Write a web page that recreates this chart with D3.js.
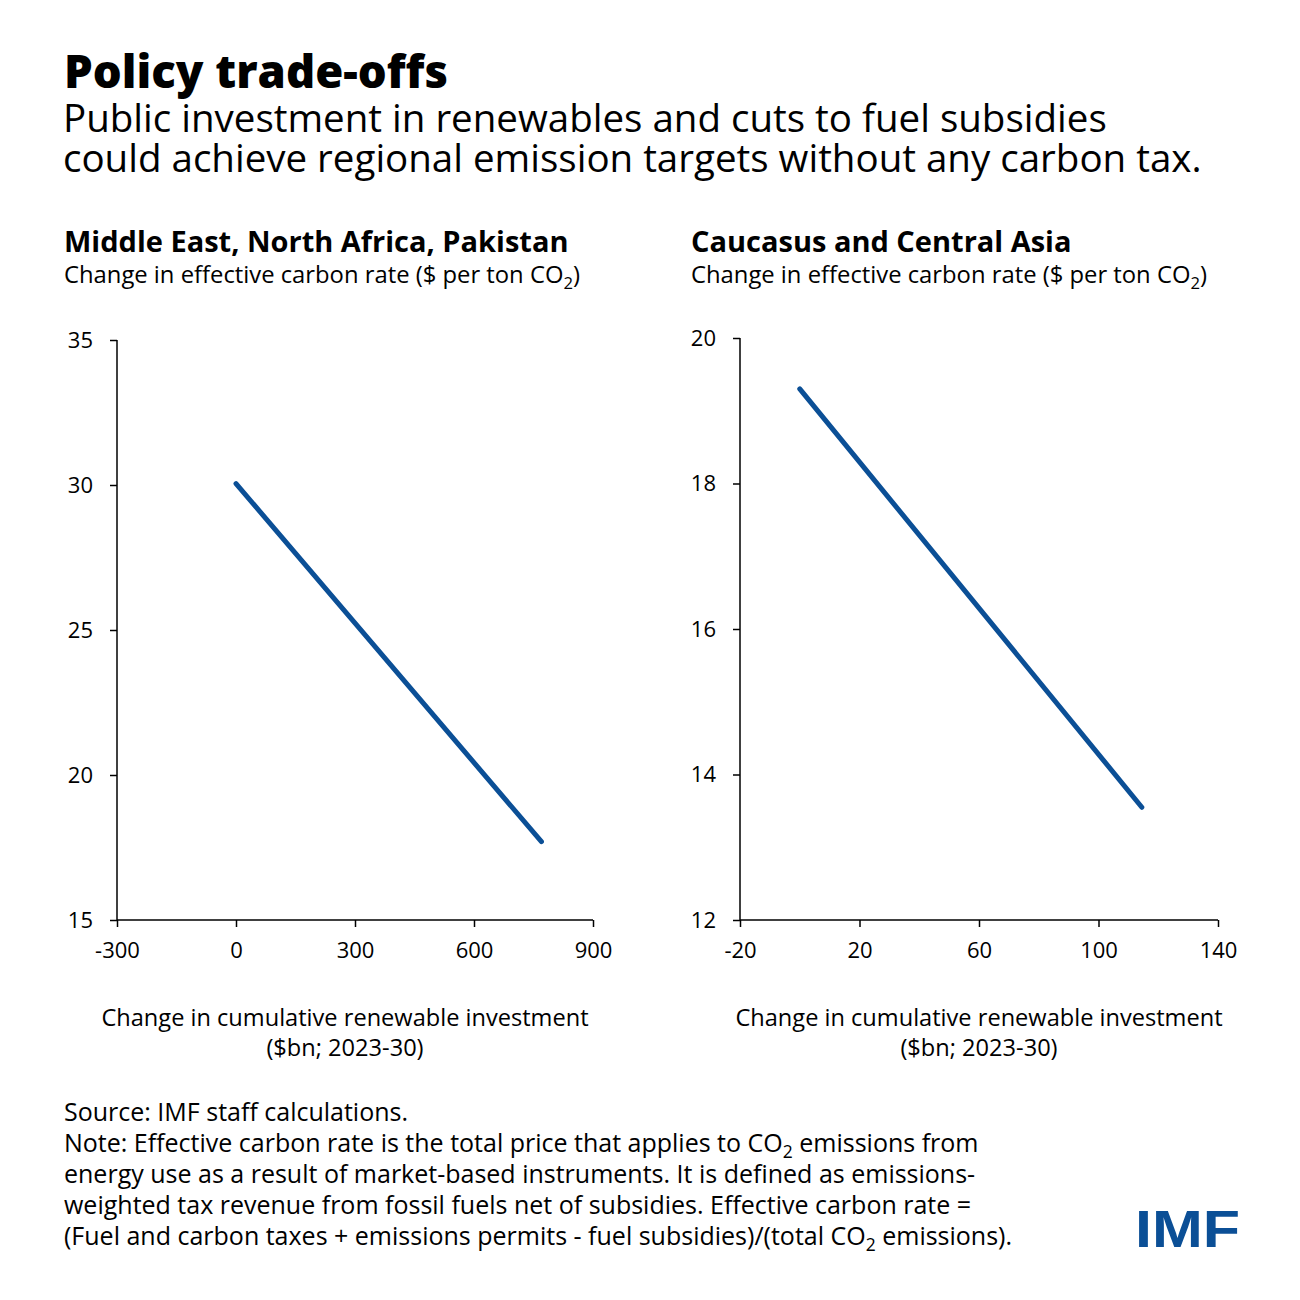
<!DOCTYPE html>
<html>
<head>
<meta charset="utf-8">
<script src="https://cdn.jsdelivr.net/npm/d3@7"></script>
<style>
    body { margin: 0; background: #fff; }
    text { font-family: "Open Sans", "Noto Sans", sans-serif; fill: #000; }
</style>
</head>
<body>
<script>
// panel 1: Middle East, North Africa, Pakistan
const menapX = [0, 770];
const menapY = [30.05, 17.7];
const menapXTicks = [-300, 0, 300, 600, 900];
const menapYTicks = [15, 20, 25, 30, 35];

// panel 2: Caucasus and Central Asia
const ccaX = [0, 114.5];
const ccaY = [19.3, 13.55];
const ccaXTicks = [-20, 20, 60, 100, 140];
const ccaYTicks = [12, 14, 16, 18, 20];

const panelTitles = ["Middle East, North Africa, Pakistan", "Caucasus and Central Asia"];
const lineColor = "#0b4f96";

let width = 1300,
    height = 1300;

let svg = d3.select("body").append("svg")
    .attr("width", width)
    .attr("height", height);

svg.append("text")
    .attr("x", 64).attr("y", 88)
    .style("font-size", "45.5px").style("font-weight", 800)
    .text("Policy trade-offs");

let sub = svg.append("text")
    .attr("y", 132)
    .style("font-size", "38.5px");
["Public investment in renewables and cuts to fuel subsidies",
 "could achieve regional emission targets without any carbon tax."].forEach((t, i) => {
    sub.append("tspan")
        .attr("x", 63).attr("dy", i ? 40 : 0)
        .text(t);
});

// text with a subscript 2 after "CO"
function co2Text(sel, before, after) {
    sel.append("tspan").text(before + "CO");
    sel.append("tspan").attr("dy", 6).style("font-size", "0.7em").text("2");
    sel.append("tspan").attr("dy", -6).text(after);
}

// tick labels use a plain hyphen, as in the original
let tickFmt = (d) => String(d);

function drawPanel(opts) {
    let g = svg.append("g");

    g.append("text")
        .attr("x", opts.left).attr("y", 252)
        .style("font-size", "29px").style("font-weight", 700)
        .text(opts.title);

    g.append("text")
        .attr("x", opts.left).attr("y", 283)
        .style("font-size", "23.8px")
        .call(co2Text, "Change in effective carbon rate ($ per ton ", ")");

    let x = d3.scaleLinear()
        .domain(d3.extent(opts.xTicks))
        .range([opts.x0, opts.x1]);

    let y = d3.scaleLinear()
        .domain(d3.extent(opts.yTicks))
        .range([920, opts.yTop]);

    let xAxis = g.append("g")
        .attr("transform", "translate(0,920)")
        .call(d3.axisBottom(x).tickValues(opts.xTicks).tickSize(7).tickPadding(15).tickFormat(tickFmt));

    let yAxis = g.append("g")
        .attr("transform", "translate(" + opts.x0 + ",0)")
        .call(d3.axisLeft(y).tickValues(opts.yTicks).tickSize(7).tickPadding(17).tickFormat(tickFmt));

    [xAxis, yAxis].forEach((a) => {
        a.selectAll("path, line").attr("stroke", "#000").attr("stroke-width", 1.5);
        a.selectAll("text")
            .style("font-size", "22px")
            .style("font-family", "'Open Sans', 'Noto Sans', sans-serif")
            .attr("fill", "#000");
    });
    xAxis.select(".domain").attr("d", "M" + opts.x0 + ",0H" + opts.x1);
    yAxis.select(".domain").attr("d", "M0," + y.range()[1] + "V920");

    let line = d3.line()
        .x(function (d) { return x(d[0]); })
        .y(function (d) { return y(d[1]); });

    g.append("path")
        .datum(d3.zip(opts.xs, opts.ys))
        .attr("fill", "none")
        .attr("stroke", lineColor)
        .attr("stroke-width", 5)
        .attr("stroke-linecap", "round")
        .attr("d", line);

    ["Change in cumulative renewable investment", "($bn; 2023-30)"].forEach((t, i) => {
        g.append("text")
            .attr("x", opts.titleX).attr("y", 1026 + i * 30)
            .attr("text-anchor", "middle")
            .style("font-size", "23.6px")
            .text(t);
    });
}

drawPanel({
    left: 64, title: panelTitles[0],
    x0: 117, x1: 593, yTop: 340, titleX: 345,
    xs: menapX, ys: menapY, xTicks: menapXTicks, yTicks: menapYTicks
});

drawPanel({
    left: 691, title: panelTitles[1],
    x0: 740, x1: 1218, yTop: 338, titleX: 979,
    xs: ccaX, ys: ccaY, xTicks: ccaXTicks, yTicks: ccaYTicks
});

// source and note
const noteLines = [
    "Source: IMF staff calculations.",
    ["Note: Effective carbon rate is the total price that applies to ", " emissions from"],
    "energy use as a result of market-based instruments. It is defined as emissions-",
    "weighted tax revenue from fossil fuels net of subsidies. Effective carbon rate =",
    ["(Fuel and carbon taxes + emissions permits - fuel subsidies)/(total ", " emissions)."]
];
const noteY = 1121, noteStep = 31;
noteLines.forEach((l, i) => {
    let t = svg.append("text")
        .attr("x", 64).attr("y", noteY + noteStep * i)
        .style("font-size", "25px");
    if (Array.isArray(l)) t.call(co2Text, l[0], l[1]);
    else t.text(l);
});

svg.append("text")
    .attr("x", 1135).attr("y", 1247)
    .attr("textLength", 105)
    .attr("lengthAdjust", "spacingAndGlyphs")
    .style("font-size", "52px").style("font-weight", 900)
    .style("font-family", "'Liberation Sans', Arial, sans-serif")
    .style("fill", lineColor)
    .text("IMF");
</script>
</body>
</html>
